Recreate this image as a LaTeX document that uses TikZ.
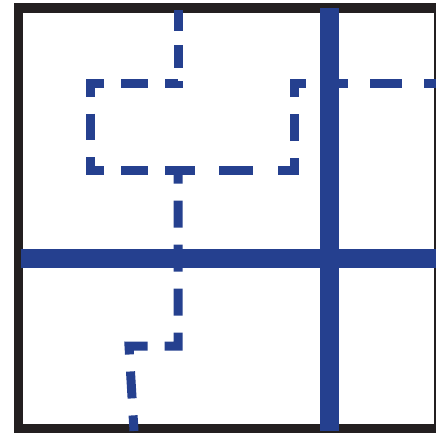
\documentclass[tikz,border=0pt]{standalone}
\usepackage{tikz}
\definecolor{road}{HTML}{25408F}
\definecolor{ink}{HTML}{231F20}

\begin{document}
\begin{tikzpicture}[x=1pt,y=-1pt,
  frameline/.style={ink,line width=9.5pt},
  mainline/.style={road,line width=19pt},
  trail/.style={road,line width=9pt,dash pattern=on 26.6pt off 17pt,dash phase=13.3pt}]
  \useasboundingbox (0,0) rectangle (436,434);
  \draw[frameline] (18.5,8) rectangle (439,428.5);
  % the two wide lines
  \coordinate (n) at (329.5,8);
  \coordinate (s) at (329.5,431);
  \coordinate (w) at (21,258);
  \coordinate (e) at (440,258);
  \draw[mainline] (w) -- (e);
  \draw[mainline] (n) -- (s);
  % corners of the dashed route
  \coordinate (top) at (178,10);
  \coordinate (a) at (178,83.5);
  \coordinate (b) at (90.5,83.5);
  \coordinate (c) at (90.5,170);
  \coordinate (d) at (178,170);
  \coordinate (f) at (294.5,170);
  \coordinate (g) at (294.5,83);
  \coordinate (h) at (440,83);
  \coordinate (k) at (178,346);
  \coordinate (m) at (129,346);
  \coordinate (bot) at (134,431);
  \draw[trail,dash pattern=on 23pt off 13.5pt,dash phase=16pt] (a) ++(0,4.5) -- (top);
  \draw[trail] (a) -- (b) -- (c) -- (d);
  \draw[trail,dash pattern=on 17pt off 24pt on 34pt off 25pt on 28.5pt off 17pt on 27pt off 17pt on 25.5pt off 14pt on 28pt off 22pt on 32pt off 22pt on 40pt,dash phase=0pt]
    (d) -- (f) -- (g) -- (h);
  \draw[trail,dash pattern=on 27pt off 17pt,dash phase=13.5pt] (d) -- (k) -- (m) -- (bot);
\end{tikzpicture}
\end{document}
